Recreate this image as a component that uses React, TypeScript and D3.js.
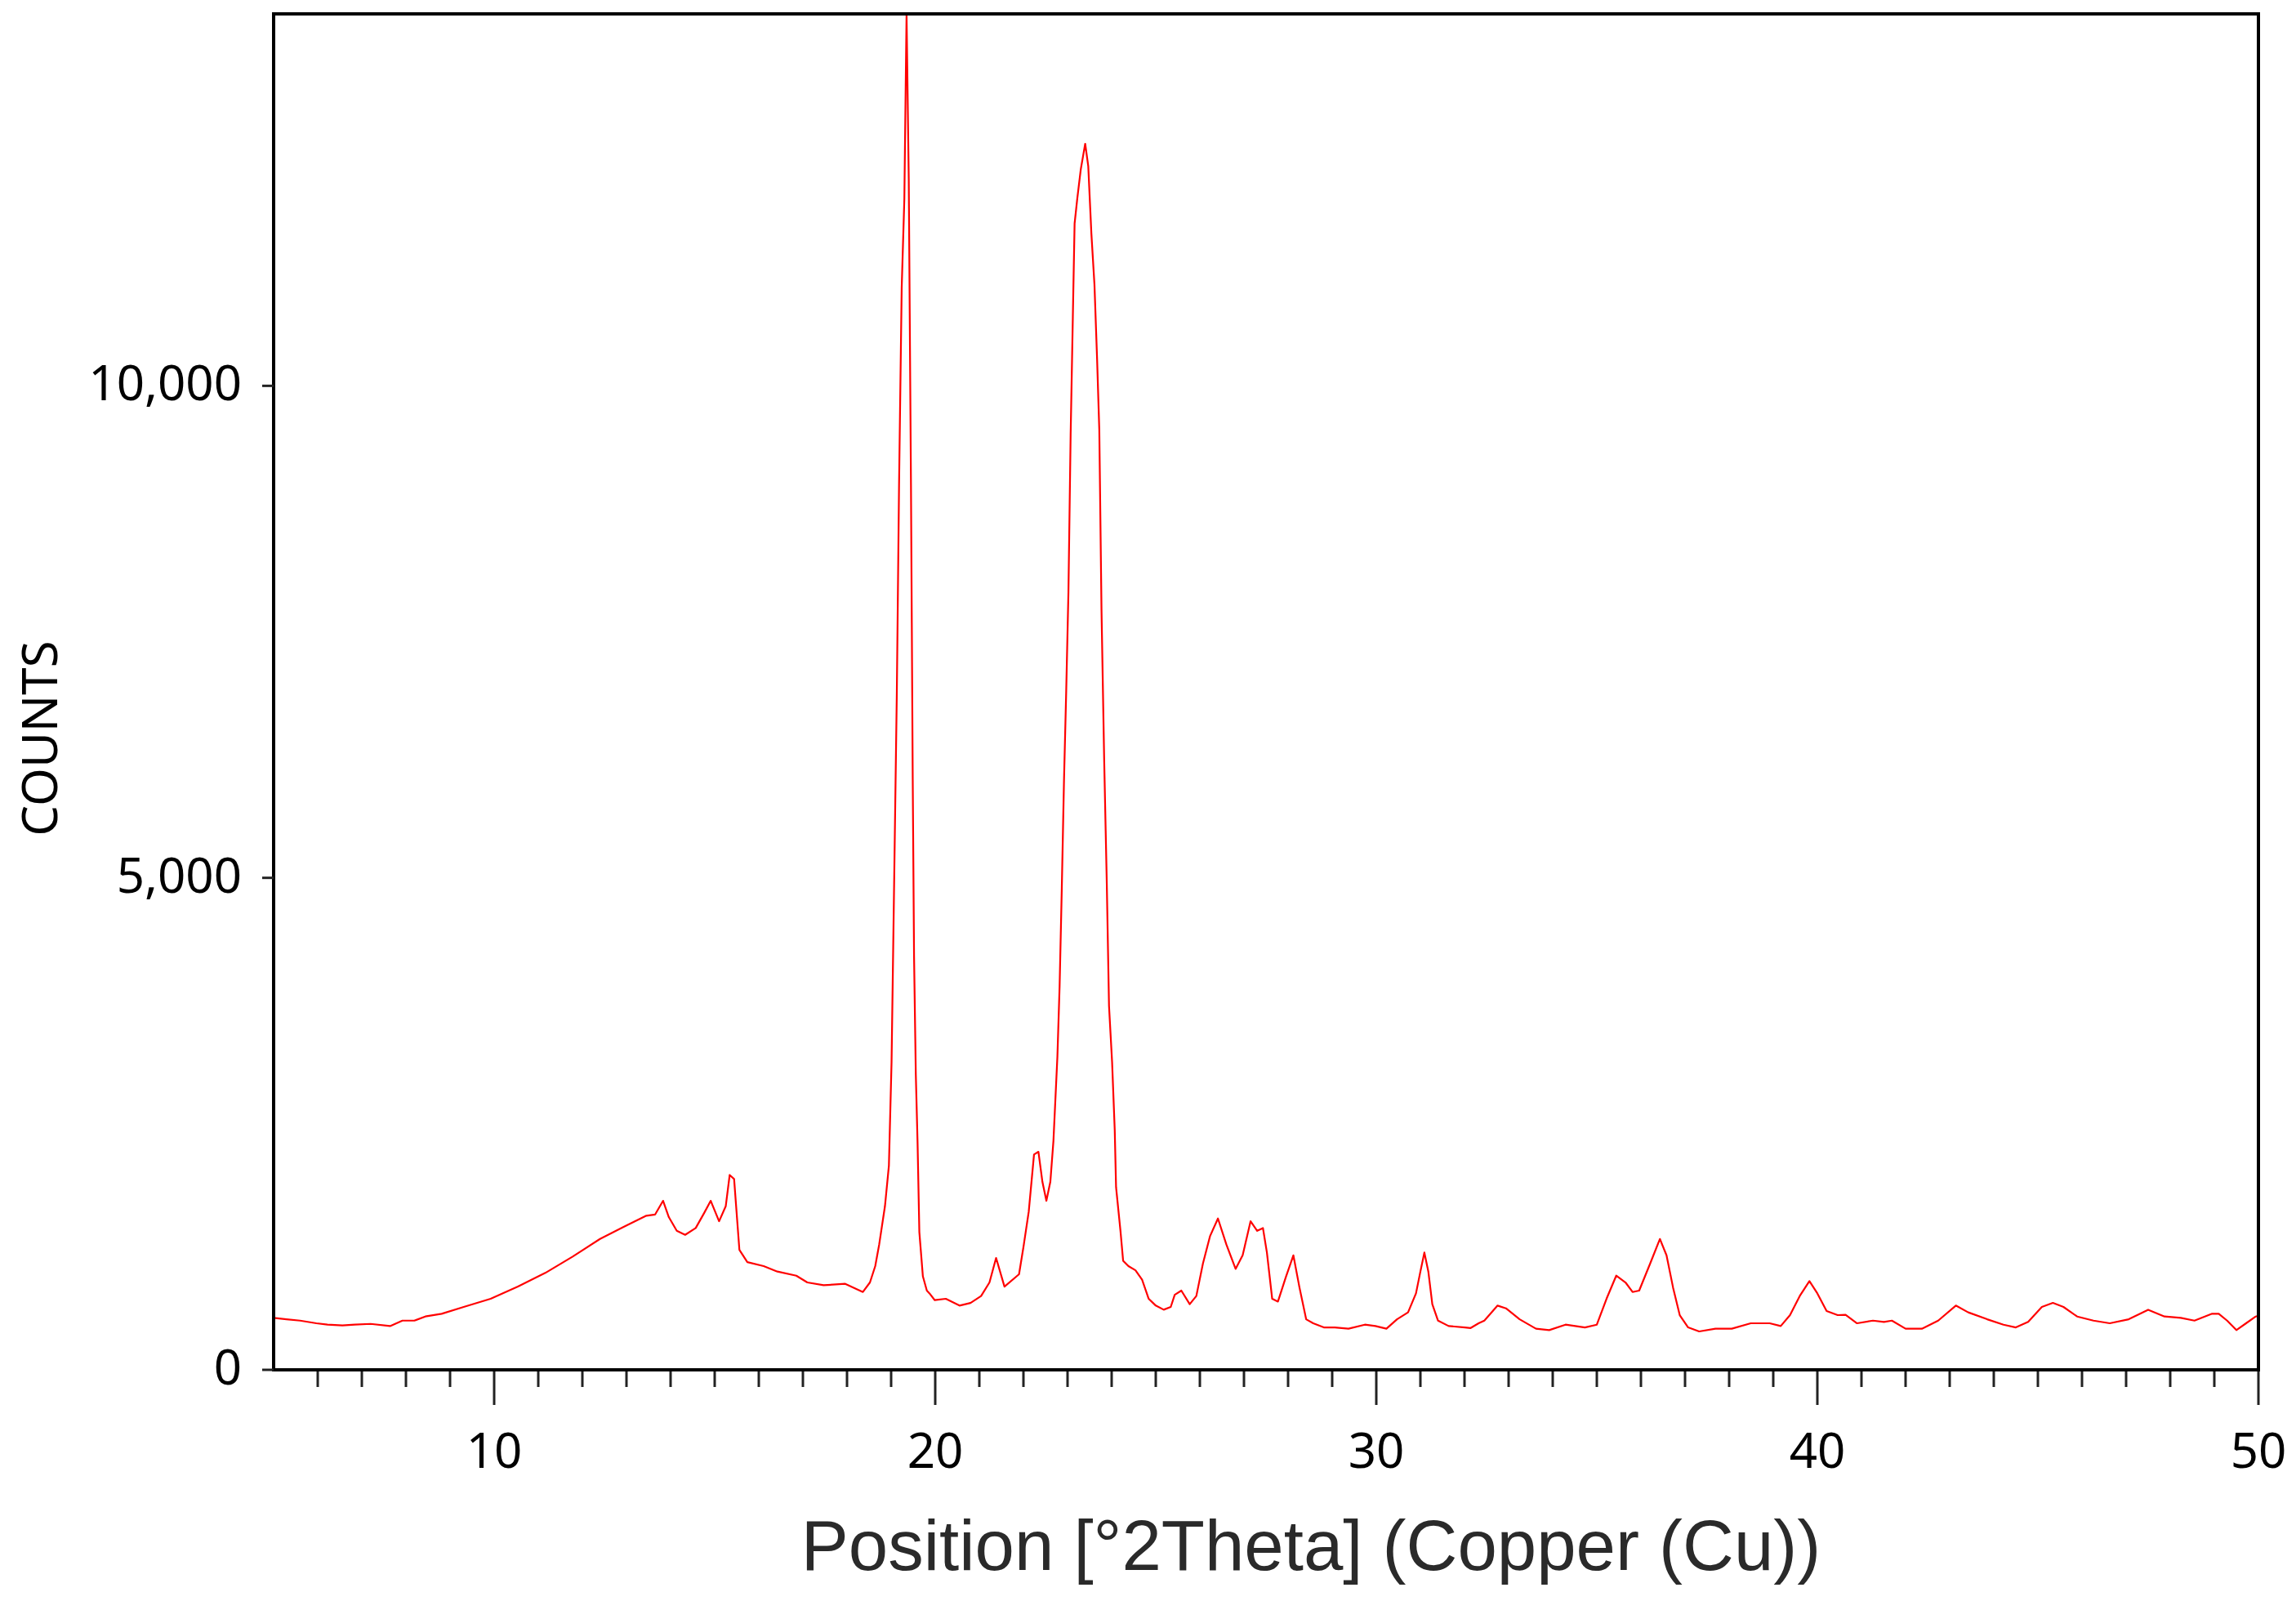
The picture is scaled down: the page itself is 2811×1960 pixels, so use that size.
import React from "react";
import * as d3 from "d3";

const twoTheta: number[] = [
  5.0, 5.29, 5.6, 5.97, 6.22, 6.56, 6.84, 7.2, 7.64, 7.92, 8.19, 8.44, 8.81, 9.31, 9.92,
  10.54, 11.16, 11.78, 12.4, 13.01, 13.45, 13.65, 13.83, 13.96, 14.14, 14.33, 14.57, 14.76,
  14.91, 15.1, 15.25, 15.34, 15.44, 15.56, 15.74, 16.11, 16.42, 16.85, 17.1, 17.47, 17.96,
  18.36, 18.52, 18.64, 18.73, 18.86, 18.95, 19.01, 19.07, 19.13, 19.18, 19.24, 19.3, 19.35,
  19.4, 19.45, 19.49, 19.52, 19.56, 19.6, 19.64, 19.72, 19.81, 19.87, 19.99, 20.24, 20.55,
  20.8, 21.04, 21.23, 21.38, 21.57, 21.9, 22.0, 22.12, 22.24, 22.34, 22.43, 22.52, 22.61,
  22.68, 22.77, 22.82, 22.87, 22.92, 22.97, 23.02, 23.07, 23.12, 23.16, 23.22, 23.3, 23.4,
  23.47, 23.54, 23.61, 23.67, 23.72, 23.77, 23.83, 23.89, 23.94, 24.01, 24.07, 24.1, 24.2,
  24.26, 24.38, 24.54, 24.69, 24.84, 25.0, 25.18, 25.34, 25.43, 25.58, 25.77, 25.92, 26.07,
  26.23, 26.41, 26.6, 26.81, 26.97, 27.15, 27.3, 27.43, 27.52, 27.64, 27.77, 27.95, 28.12,
  28.26, 28.41, 28.57, 28.81, 29.06, 29.37, 29.74, 29.98, 30.23, 30.47, 30.72, 30.9, 31.0,
  31.09, 31.18, 31.27, 31.4, 31.64, 32.01, 32.14, 32.32, 32.45, 32.75, 32.94, 33.25, 33.62,
  33.92, 34.29, 34.73, 35.0, 35.22, 35.44, 35.65, 35.81, 35.96, 36.21, 36.43, 36.58, 36.73,
  36.88, 37.07, 37.32, 37.69, 38.06, 38.49, 38.92, 39.17, 39.38, 39.6, 39.82, 40.0, 40.21,
  40.46, 40.64, 40.9, 41.26, 41.51, 41.69, 42.0, 42.37, 42.74, 43.14, 43.42, 43.85, 44.22,
  44.5, 44.78, 45.09, 45.34, 45.58, 45.89, 46.26, 46.63, 47.06, 47.5, 47.87, 48.24, 48.55,
  48.95, 49.1, 49.29, 49.5, 49.72, 49.94, 50.0,
];

const counts: number[] = [
  528, 514, 500, 473, 459, 451, 459, 467, 445, 500, 500, 542, 570, 639, 722,
  846, 985, 1151, 1330, 1469, 1566, 1579, 1718, 1552, 1413, 1372, 1441, 1593,
  1718, 1510, 1662, 1980, 1939, 1220, 1095, 1054, 999, 957, 888, 860, 874,
  791, 888, 1054, 1275, 1662, 2077, 3130, 5000, 6900, 9000, 11000, 11900, 13780,
  12100, 9000, 6000, 4200, 3000, 2300, 1400, 950, 805, 777, 708, 722, 653,
  680, 750, 888, 1137, 846, 971, 1247, 1607, 2188, 2216, 1911, 1718, 1911,
  2326, 3184, 3900, 4900, 6000, 6900, 7900, 9500, 10700, 11650, 11900, 12200, 12460,
  12230, 11550, 11030, 10270, 9550, 7720, 6210, 4940, 3700, 3128, 2437, 1856, 1413,
  1109, 1054, 1012, 916, 722, 653, 611, 639, 763, 805, 667, 750, 1081,
  1358, 1538, 1275, 1026, 1164, 1510, 1413, 1441, 1192, 722, 694, 943, 1164,
  833, 514, 473, 431, 431, 418, 459, 445, 418, 514, 584, 777, 999,
  1192, 999, 667, 500, 445, 431, 425, 473, 500, 653, 625, 514, 418,
  404, 459, 431, 459, 722, 957, 888, 791, 805, 1081, 1330, 1164, 833,
  556, 431, 390, 418, 418, 473, 473, 445, 556, 750, 902, 777, 597,
  556, 560, 473, 500, 487, 500, 418, 418, 500, 653, 584, 514, 459,
  431, 487, 639, 680, 639, 542, 500, 473, 514, 611, 542, 528, 500,
  570, 570, 500, 404, 473, 542, 550,
];

const xMajorTicks: number[] = [10, 20, 30, 40, 50];
const xMinorTicks: number[] = d3.range(6, 50).filter((v) => v % 10 !== 0);
const yTicks: number[] = [0, 5000, 10000];
const xDomain: [number, number] = [5, 50];
const yDomain: [number, number] = [0, 13780];
const xTitle = "Position [°2Theta] (Copper (Cu))";
const yTitle = "COUNTS";

export default function App() {
  const W = 2811;
  const H = 1960;
  const left = 335;
  const right = 2765;
  const top = 17;
  const bottom = 1677;

  const x = d3.scaleLinear().domain(xDomain).range([left, right]);
  const y = d3.scaleLinear().domain(yDomain).range([bottom, top]);

  const data = twoTheta.map((t, i) => [t, counts[i]] as [number, number]);
  const line = d3
    .line<[number, number]>()
    .x((d) => x(d[0]))
    .y((d) => y(d[1]));

  const fmt = d3.format(",");
  const tickFont = "'Noto Sans', 'Open Sans', sans-serif";

  return (
    <div>
      <style>{`body{margin:0}`}</style>
      <svg width={W} height={H} style={{ display: "block", background: "#fff" }}>
        <rect x={0} y={0} width={W} height={H} fill="#fff" />
        <defs>
          <clipPath id="plotclip">
            <rect x={left} y={top} width={right - left} height={bottom - top} />
          </clipPath>
        </defs>
        <path
          d={line(data) || ""}
          fill="none"
          stroke="#ff0000"
          strokeWidth={2.2}
          strokeLinejoin="round"
          clipPath="url(#plotclip)"
        />
        {/* frame */}
        <rect
          x={left}
          y={top}
          width={right - left}
          height={bottom - top}
          fill="none"
          stroke="#000"
          strokeWidth={4}
        />
        {/* x minor ticks */}
        {xMinorTicks.map((t) => (
          <line
            key={"mi" + t}
            x1={x(t)}
            x2={x(t)}
            y1={bottom + 2}
            y2={bottom + 21}
            stroke="#222"
            strokeWidth={3}
          />
        ))}
        {xMajorTicks.map((t) => (
          <line
            key={"ma" + t}
            x1={x(t)}
            x2={x(t)}
            y1={bottom + 2}
            y2={bottom + 43}
            stroke="#222"
            strokeWidth={3}
          />
        ))}
        {xMajorTicks.map((t) => (
          <text
            key={"xl" + t}
            x={x(t)}
            y={1797}
            textAnchor="middle"
            fontFamily={tickFont}
            fontSize={60}
            fill="#000"
          >
            {t}
          </text>
        ))}
        {yTicks.map((t) => (
          <line
            key={"yt" + t}
            x1={left - 14}
            x2={left}
            y1={y(t)}
            y2={y(t)}
            stroke="#222"
            strokeWidth={3}
          />
        ))}
        {yTicks.map((t) => (
          <text
            key={"yl" + t}
            x={296}
            y={y(t) + 18}
            textAnchor="end"
            fontFamily={tickFont}
            fontSize={60}
            fill="#000"
          >
            {fmt(t)}
          </text>
        ))}
        <text
          transform={`translate(${70},${904}) rotate(-90)`}
          textAnchor="middle"
          fontFamily={tickFont}
          fontSize={60}
          fill="#000"
        >
          {yTitle}
        </text>
        <text
          x={1605}
          y={1922}
          textAnchor="middle"
          fontFamily="'Liberation Sans', Arial, sans-serif"
          fontSize={87}
          fill="#2a2a2a"
        >
          {xTitle}
        </text>
      </svg>
    </div>
  );
}
